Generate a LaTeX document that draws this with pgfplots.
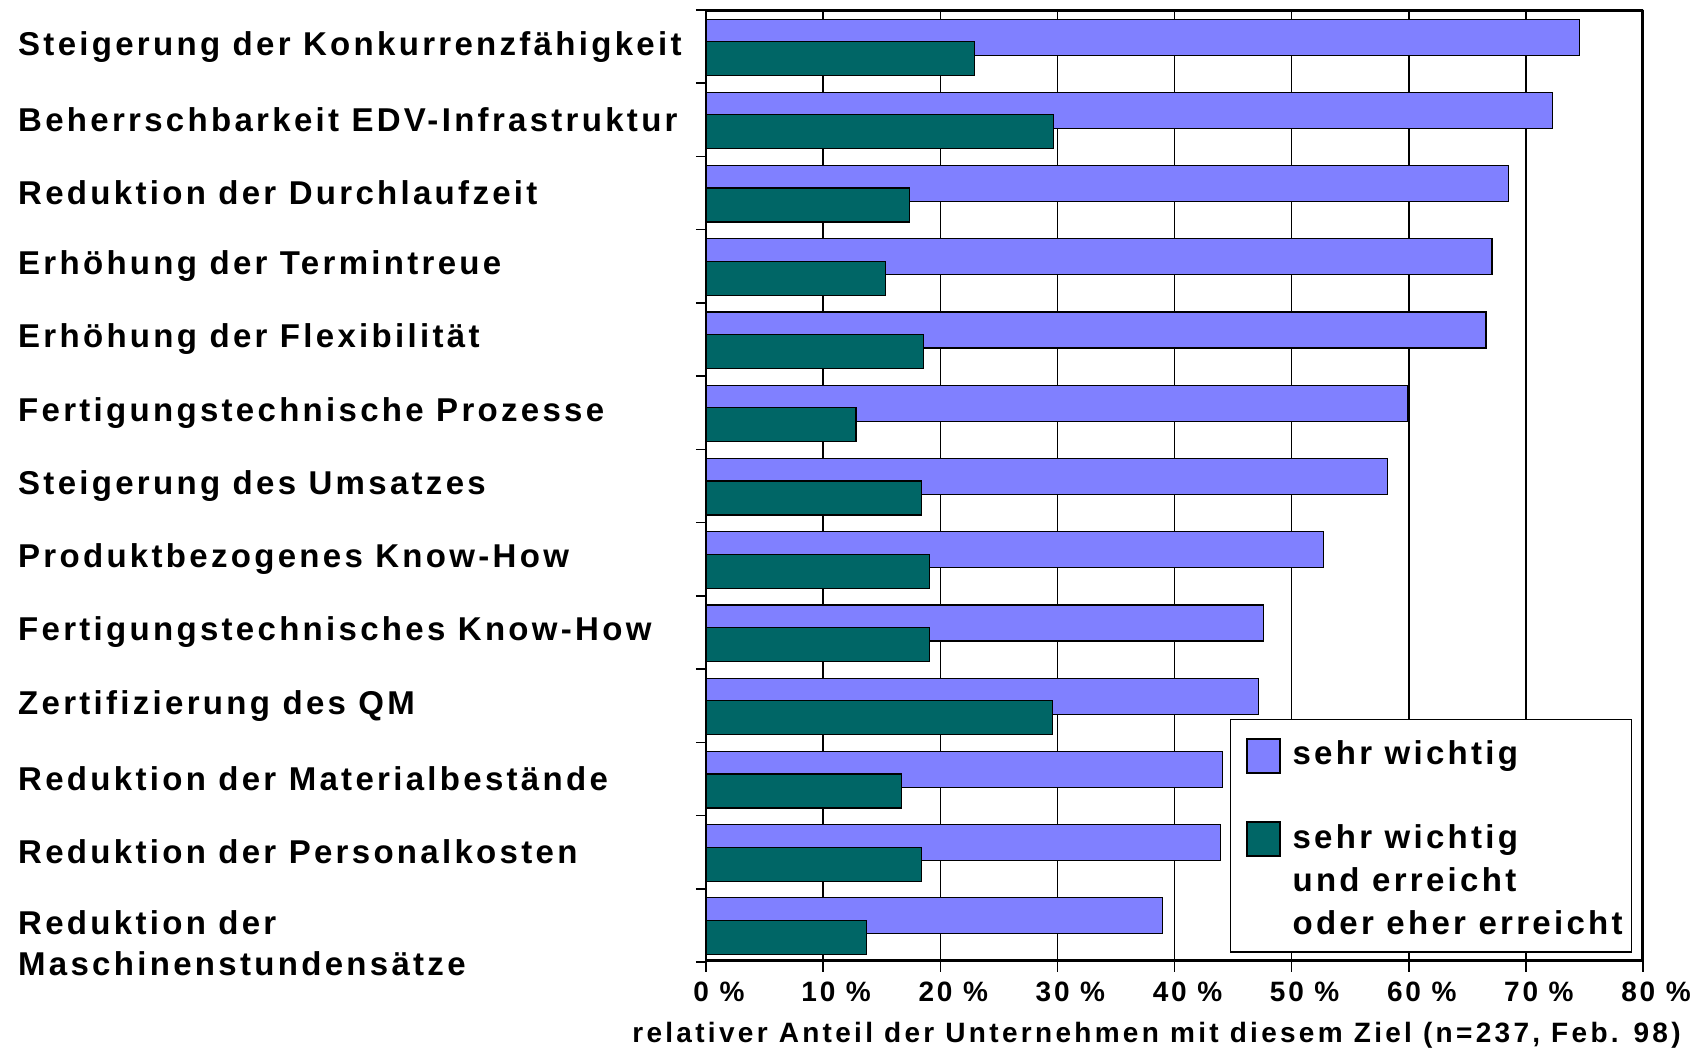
\documentclass[border=0pt]{standalone}
\usepackage{pgfplots}
\pgfplotsset{compat=1.18}
\usepackage{pgfplotstable}
\usepackage{fontspec}
\setmainfont{Liberation Sans}
\newfontfamily\spfont{Liberation Sans}[LetterSpace=10]
\newfontfamily\xlspfont{Liberation Sans}[LetterSpace=11.8]
\newcommand\labfont{\spfont\bfseries\fontsize{33bp}{41bp}\selectfont}
\newcommand\legfont{\spfont\bfseries\fontsize{33bp}{43bp}\selectfont}
\newcommand\tickfont{\spfont\bfseries\fontsize{28bp}{34bp}\selectfont}
\newcommand\xlabfont{\xlspfont\bfseries\fontsize{28bp}{34bp}\selectfont}
\definecolor{lila}{RGB}{128,128,255}
\definecolor{tealdark}{RGB}{0,102,102}

% y = position (12 = top), w = sehr wichtig, e = sehr wichtig und (eher) erreicht
\pgfplotstableread{
y  w     e
12 74.6  22.9
11 72.3  29.7
10 68.5  17.4
9  67.1  15.3
8  66.6  18.6
7  59.9  12.8
6  58.2  18.4
5  52.7  19.1
4  47.6  19.1
3  47.2  29.6
2  44.1  16.7
1  43.9  18.4
0  39.0  13.7
}\data

\begin{document}
\begin{tikzpicture}
\useasboundingbox (0,0) rectangle (1706bp,1048bp);
\begin{axis}[
  at={(706bp,86bp)}, anchor=south west,
  scale only axis, width=937bp, height=952bp,
  xbar,
  xmin=0, xmax=80, ymin=-0.5, ymax=12.5,
  xtick={0,10,20,30,40,50,60,70,80},
  xticklabels={0 \%,10 \%,20 \%,30 \%,40 \%,50 \%,60 \%,70 \%,80 \%},
  xtick pos=bottom, ytick pos=left,
  tick align=outside, major tick length=10bp,
  tick style={black, line width=1.5bp},
  xmajorgrids, major grid style={black, line width=1.5bp},
  ytick={-0.5,0.5,...,12.5}, yticklabels={},
  extra y ticks={-0.29,1,2,3,4,5,6,7,8,9,10,11,12},
  extra y tick labels={
    {\begin{tabular}{@{}l@{}}Reduktion der\\Maschinenstundensätze\end{tabular}},
    Reduktion der Personalkosten,
    Reduktion der Materialbestände,
    Zertifizierung des QM,
    Fertigungstechnisches Know-How,
    Produktbezogenes Know-How,
    Steigerung des Umsatzes,
    Fertigungstechnische Prozesse,
    Erhöhung der Flexibilität,
    Erhöhung der Termintreue,
    Reduktion der Durchlaufzeit,
    Beherrschbarkeit EDV-Infrastruktur,
    Steigerung der Konkurrenzfähigkeit},
  extra y tick style={major tick length=0pt, ymajorgrids=false},
  yticklabel style={anchor=west, xshift=-688bp, inner sep=0pt, font=\labfont},
  xticklabel style={font=\tickfont, xshift=13bp, yshift=-6bp},
  xlabel={relativer Anteil der Unternehmen mit diesem Ziel (n=237, Feb. 98)},
  xlabel style={font=\xlabfont, xshift=-18bp, yshift=-14bp},
  axis line style={draw=none},
  legend cell align=left,
  legend style={at={(0.559,0.255)}, anchor=north west, draw=black, line width=1.2bp,
    font=\legfont, inner xsep=9bp, inner ysep=5bp, row sep=44.4bp, column sep=12bp,
    cells={anchor=west}, nodes={inner sep=0bp, text depth=}},
]
\addplot[fill=lila, draw=black, line width=1.2bp, bar width=36bp, bar shift=9.5bp,
  legend image code/.code={\path (0bp,0bp) (0bp,30.5bp); \draw[fill=lila, draw=black, line width=1.2bp] (7bp,-17bp) rectangle (40bp,17bp);}]
  table[x=w, y=y]{\data};
\addlegendentry{sehr wichtig}
\addplot[fill=tealdark, draw=black, line width=1.2bp, bar width=34bp, bar shift=-12bp,
  legend image code/.code={\path (0bp,0bp); \draw[fill=tealdark, draw=black, line width=1.2bp] (7bp,26.4bp) rectangle (40bp,60.4bp);}]
  table[x=e, y=y]{\data};
\addlegendentry{\begin{tabular}{@{}l@{}}sehr wichtig\\und erreicht\\oder eher erreicht\end{tabular}}
\draw[black, line width=5bp] (rel axis cs:0,1) -- (rel axis cs:1,1) -- (rel axis cs:1,0) -- (rel axis cs:0,0);
\draw[black, line width=1.5bp] (rel axis cs:0,0) -- (rel axis cs:0,1);
\end{axis}
\end{tikzpicture}
\end{document}
